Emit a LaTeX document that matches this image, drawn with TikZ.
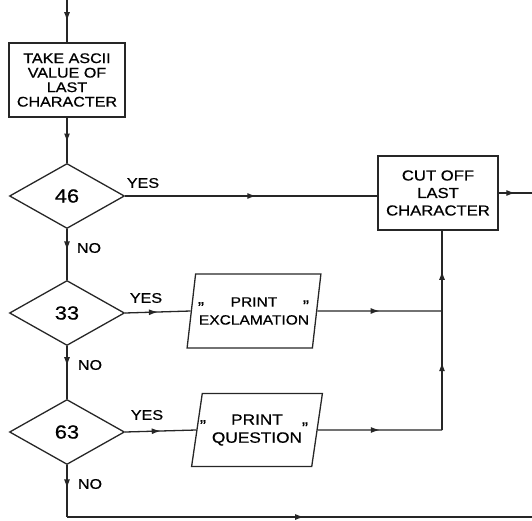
\documentclass[tikz,border=0pt]{standalone}
\usepackage{fontspec}
\setmainfont[FakeStretch=1.15,FakeBold=0.6]{Liberation Sans}
\usetikzlibrary{shapes.geometric,arrows.meta,decorations.markings}
\tikzset{
  flow/.style={line width=1.3pt, draw=black!85},
  midtip/.style={decoration={markings,
      mark=at position #1 with {\arrow{Latex[length=9pt,width=6pt]}}},
    postaction={decorate}},
  procbox/.style={flow, rectangle, align=center, inner sep=2pt},
  test/.style={flow, diamond, minimum width=115pt, minimum height=65pt,
    inner sep=0pt, font=\fontsize{19}{19}\selectfont},
  iobox/.style={flow, trapezium, trapezium left angle=76,
    trapezium right angle=104, trapezium stretches=true,
    minimum width=133pt, minimum height=74pt, align=center},
  lbl/.style={font=\fontsize{14}{14}\selectfont},
  quote/.style={font=\fontsize{16}{16}\selectfont, inner sep=0pt},
}
\begin{document}
\begin{tikzpicture}[x=1pt,y=-1pt]
\useasboundingbox (0,0) rectangle (532,521);

% process boxes
\node[procbox, minimum width=116pt, minimum height=74pt,
      font=\fontsize{14}{14.5}\selectfont] (take) at (67,80)
      {TAKE ASCII\\VALUE OF\\LAST\\CHARACTER};
\node[procbox, minimum width=120pt, minimum height=74pt,
      font=\fontsize{14.5}{17.5}\selectfont] (cut) at (438,193)
      {CUT OFF\\LAST\\CHARACTER};

% decisions
\node[test] (d46) at (67,196) {46};
\node[test] (d33) at (67,313) {33};
\node[test] (d63) at (67,432) {63};

% output boxes
\node[iobox, font=\fontsize{13.5}{18}\selectfont] (p1) at (254,311)
      {PRINT\\EXCLAMATION};
\node[iobox, minimum width=131pt, minimum height=73pt,
      font=\fontsize{15}{18}\selectfont] (p2) at (257,430)
      {PRINT\\QUESTION};

% quote marks
\node[quote] (q1l) at (201,304) {„};
\node[quote] (q1r) at (306,306) {"};
\node[quote] (q2l) at (203,422) {„};
\node[quote] (q2r) at (305,428) {"};

% free ends and junctions
\coordinate (top) at (67,0);
\coordinate (outR) at (532,193);
\coordinate (j1) at (442,311);
\coordinate (j2) at (442,430);
\coordinate (bl) at (67,517);
\coordinate (br) at (532,517);

% connectors
\draw[flow, midtip=0.5] (top) -- (take.north);
\draw[flow, midtip=0.55] (take.south) -- (d46.north);
\draw[flow, midtip=0.52] (d46.east) -- (d46.east -| cut.west);
\draw[flow, midtip=0.5] (cut.east) -- (outR);
\draw[flow, midtip=0.42] (d46.south) -- (d33.north);
\draw[flow, midtip=0.38] (d33.south) -- (d63.north);
\draw[flow, midtip=0.45] (d63.south) -- (bl);
\draw[flow, midtip=0.51] (bl) -- (br);
\draw[flow, midtip=0.5] (d33.east) -- (p1.west);
\draw[flow, midtip=0.5] (p1.east) -- (j1);
\draw[flow, midtip=0.5] (d63.east) -- (p2.west);
\draw[flow, midtip=0.5] (p2.east) -- (j2);
\draw[flow, midtip=0.57] (j2) -- (j1);
\draw[flow, midtip=0.5] (j1) -- (j1 |- cut.south);

% branch labels
\node[lbl] (y46) at (143,183) {YES};
\node[lbl] (y33) at (146,298) {YES};
\node[lbl] (y63) at (147,415) {YES};
\node[lbl] (n46) at (89,248) {NO};
\node[lbl] (n33) at (90,365) {NO};
\node[lbl] (n63) at (90,484) {NO};
\end{tikzpicture}
\end{document}
